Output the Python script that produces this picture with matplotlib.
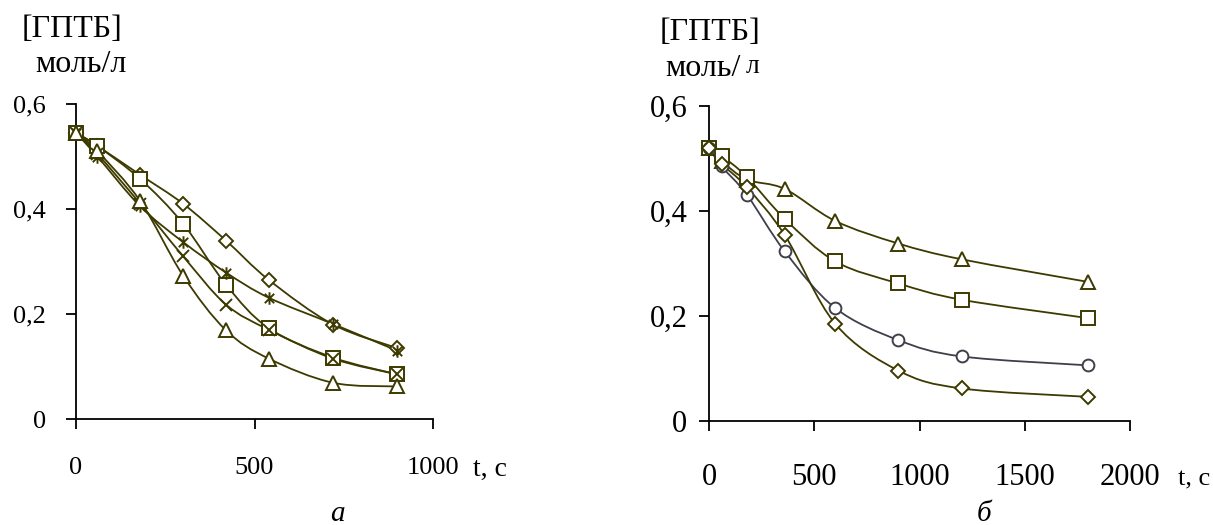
import matplotlib
matplotlib.use("Agg")
import matplotlib.pyplot as plt
import numpy as np
from matplotlib.path import Path
from matplotlib.patches import PathPatch

plt.rcParams["font.family"] = ["Liberation Serif", "DejaVu Serif"]

# ---- panel a ----
t_a = [0, 60, 180, 300, 420, 540, 720, 900]
a_diamond = [0.545, 0.52, 0.465, 0.41, 0.34, 0.265, 0.18, 0.135]
a_square = [0.545, 0.52, 0.457, 0.372, 0.256, 0.173, 0.117, 0.085]
a_star = [0.545, 0.50, 0.405, 0.337, 0.279, 0.231, 0.181, 0.13]
a_cross = [0.545, 0.505, 0.41, 0.31, 0.218, 0.17, 0.115, 0.085]
a_triangle = [0.545, 0.51, 0.415, 0.273, 0.169, 0.115, 0.069, 0.062]

# ---- panel b ----
t_b = [0, 60, 180, 360, 600, 900, 1200, 1800]
b_triangle = [0.52, 0.495, 0.46, 0.442, 0.381, 0.338, 0.308, 0.265]
b_square = [0.52, 0.505, 0.465, 0.385, 0.304, 0.262, 0.231, 0.196]
b_circle = [0.52, 0.485, 0.431, 0.323, 0.215, 0.154, 0.123, 0.106]
b_diamond = [0.52, 0.49, 0.445, 0.354, 0.185, 0.096, 0.062, 0.046]

y_ticks = [0, 0.2, 0.4, 0.6]
y_ticklabels = ["0", "0,2", "0,4", "0,6"]

OLIVE = "#3d3a00"
GREY = "#3f3f4c"

# Excel-like star marker: vertical bar plus an x
star = Path([(0, -1), (0, 1), (-0.75, -0.75), (0.75, 0.75), (-0.75, 0.75), (0.75, -0.75)],
            [Path.MOVETO, Path.LINETO, Path.MOVETO, Path.LINETO, Path.MOVETO, Path.LINETO])


def smooth_line(ax, x, y, color):
    # Catmull-Rom style Bezier through the points, like Excel's smoothed line
    pts = np.column_stack([x, y]).astype(float)
    verts = [pts[0]]
    codes = [Path.MOVETO]
    n = len(pts)
    for i in range(n - 1):
        p0 = pts[max(i - 1, 0)]
        p1 = pts[i]
        p2 = pts[i + 1]
        p3 = pts[min(i + 2, n - 1)]
        verts += [p1 + (p2 - p0) / 6, p2 - (p3 - p1) / 6, p2]
        codes += [Path.CURVE4] * 3
    ax.add_patch(PathPatch(Path(verts, codes), fill=False, edgecolor=color, lw=1.3, clip_on=False))


def series(ax, x, y, marker, ms, color=OLIVE):
    smooth_line(ax, x, y, color)
    ax.plot(x, y, ls="none", marker=marker, ms=ms, mfc="white", mec=color, mew=1.4, clip_on=False, zorder=3)


def style(ax, xmax, xticks, fs, ypad, xpad):
    ax.set_xlim(0, xmax)
    ax.set_ylim(0, 0.6)
    for s in ["top", "right"]:
        ax.spines[s].set_visible(False)
    for s in ["left", "bottom"]:
        ax.spines[s].set_linewidth(1.3)
    ax.set_yticks(y_ticks)
    ax.set_yticklabels(y_ticklabels)
    ax.set_xticks(xticks)
    ax.set_xticklabels([str(v) for v in xticks])
    ax.tick_params(axis="both", direction="out", length=7.5, width=1.3, labelsize=fs)
    ax.tick_params(axis="y", pad=ypad)
    ax.tick_params(axis="x", pad=xpad)


W, H = 1213, 525
fig = plt.figure(figsize=(W / 100, H / 100), dpi=100)


def fx(px):
    return px / W


def fy(py):
    return 1 - py / H


ax1 = fig.add_axes([fx(76), fy(419), fx(433 - 76), (419 - 104) / H])
series(ax1, t_a, a_diamond, "D", 7.5)
series(ax1, t_a, a_square, "s", 10)
series(ax1, t_a, a_star, star, 9)
series(ax1, t_a, a_cross, "x", 8.5)
series(ax1, t_a, a_triangle, "^", 9.5)
style(ax1, 1000, [0, 500, 1000], 19, 14, 20)

ax2 = fig.add_axes([fx(709), fy(421), fx(1130 - 709), (421 - 106) / H])
series(ax2, t_b, b_triangle, "^", 9.5)
series(ax2, t_b, b_square, "s", 10)
series(ax2, t_b, b_circle, "o", 8.5, GREY)
series(ax2, t_b, b_diamond, "D", 7.5)
style(ax2, 2000, [0, 500, 1000, 1500, 2000], 22, 8, 23)

# axis captions
fig.text(fx(22), fy(37), "[ГПТБ]", fontsize=23, ha="left", va="baseline")
fig.text(fx(35), fy(72), "моль/л", fontsize=23, ha="left", va="baseline")
fig.text(fx(473), fy(476), "t, с", fontsize=20, ha="left", va="baseline")
fig.text(fx(337), fy(521), "а", fontsize=21, style="italic", ha="center", va="baseline")

fig.text(fx(660), fy(40), "[ГПТБ]", fontsize=23, ha="left", va="baseline")
fig.text(fx(665), fy(76), "моль/", fontsize=23, ha="left", va="baseline")
fig.text(fx(746), fy(73), "л", fontsize=20, ha="left", va="baseline")
fig.text(fx(1178), fy(485), "t, с", fontsize=19, ha="left", va="baseline")
fig.text(fx(984), fy(521), "б", fontsize=21, style="italic", ha="center", va="baseline")

fig.savefig("out.png", dpi=100)
